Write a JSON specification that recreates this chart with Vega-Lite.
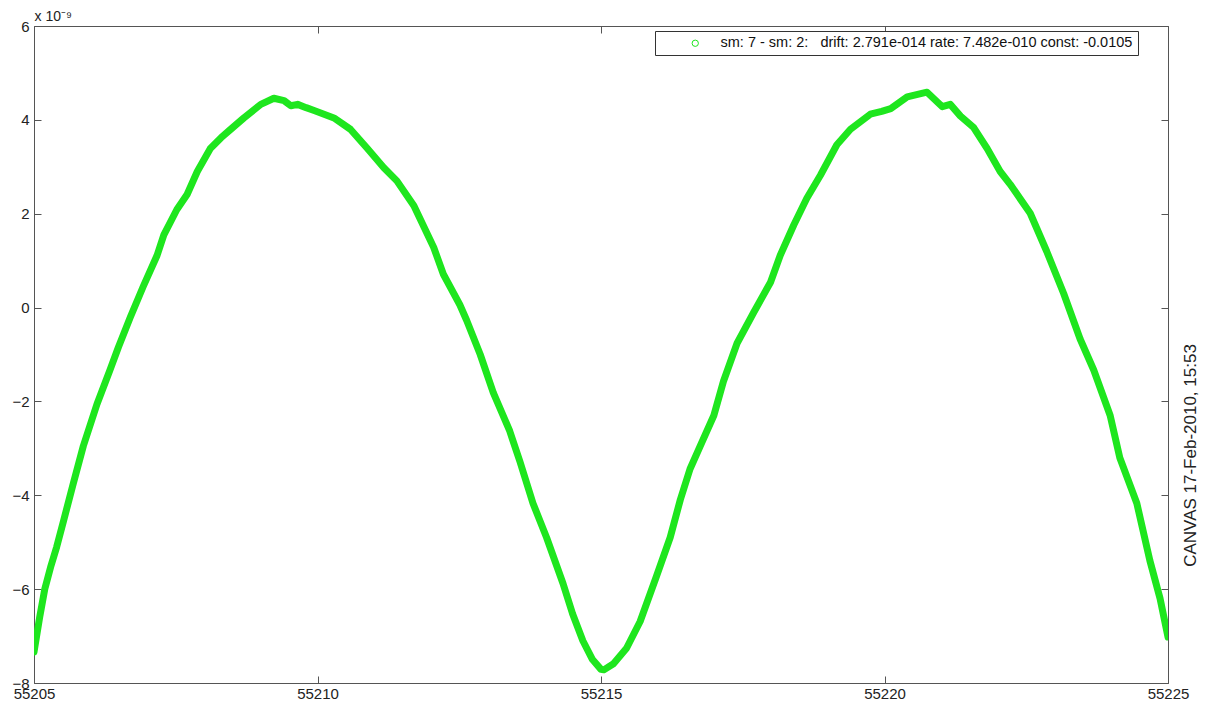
{
  "$schema": "https://vega.github.io/schema/vega-lite/v6.json",
  "width": 1134,
  "height": 657,
  "autosize": "none",
  "padding": {"left": 34, "top": 26, "right": 46, "bottom": 22},
  "background": "white",
  "config": {"view": {"stroke": "#555555", "strokeWidth": 1}, "font": "Liberation Sans"},
  "data": {"values": [
    {"mjd": 55205.00, "v": -7.34},
    {"mjd": 55205.10, "v": -6.6},
    {"mjd": 55205.19, "v": -6.0},
    {"mjd": 55205.30, "v": -5.5},
    {"mjd": 55205.40, "v": -5.1},
    {"mjd": 55205.52, "v": -4.55},
    {"mjd": 55205.69, "v": -3.76},
    {"mjd": 55205.87, "v": -2.95},
    {"mjd": 55206.11, "v": -2.06},
    {"mjd": 55206.34, "v": -1.33},
    {"mjd": 55206.49, "v": -0.84},
    {"mjd": 55206.70, "v": -0.20},
    {"mjd": 55206.93, "v": 0.46},
    {"mjd": 55207.17, "v": 1.11},
    {"mjd": 55207.29, "v": 1.55},
    {"mjd": 55207.52, "v": 2.09},
    {"mjd": 55207.70, "v": 2.41},
    {"mjd": 55207.88, "v": 2.90},
    {"mjd": 55208.11, "v": 3.39},
    {"mjd": 55208.30, "v": 3.62},
    {"mjd": 55208.47, "v": 3.80},
    {"mjd": 55208.70, "v": 4.04},
    {"mjd": 55209.00, "v": 4.33},
    {"mjd": 55209.23, "v": 4.46},
    {"mjd": 55209.41, "v": 4.41},
    {"mjd": 55209.53, "v": 4.30},
    {"mjd": 55209.65, "v": 4.33},
    {"mjd": 55209.80, "v": 4.26},
    {"mjd": 55209.94, "v": 4.20},
    {"mjd": 55210.29, "v": 4.04},
    {"mjd": 55210.58, "v": 3.80},
    {"mjd": 55210.88, "v": 3.39},
    {"mjd": 55211.17, "v": 2.98},
    {"mjd": 55211.40, "v": 2.70},
    {"mjd": 55211.70, "v": 2.17},
    {"mjd": 55212.05, "v": 1.28},
    {"mjd": 55212.22, "v": 0.71},
    {"mjd": 55212.51, "v": 0.06},
    {"mjd": 55212.63, "v": -0.27},
    {"mjd": 55212.87, "v": -1.0},
    {"mjd": 55213.10, "v": -1.81},
    {"mjd": 55213.39, "v": -2.63},
    {"mjd": 55213.57, "v": -3.28},
    {"mjd": 55213.80, "v": -4.17},
    {"mjd": 55214.04, "v": -4.90},
    {"mjd": 55214.33, "v": -5.88},
    {"mjd": 55214.50, "v": -6.53},
    {"mjd": 55214.68, "v": -7.10},
    {"mjd": 55214.85, "v": -7.50},
    {"mjd": 55215.00, "v": -7.71},
    {"mjd": 55215.05, "v": -7.72},
    {"mjd": 55215.22, "v": -7.59},
    {"mjd": 55215.45, "v": -7.26},
    {"mjd": 55215.69, "v": -6.69},
    {"mjd": 55215.98, "v": -5.72},
    {"mjd": 55216.22, "v": -4.90},
    {"mjd": 55216.40, "v": -4.09},
    {"mjd": 55216.57, "v": -3.44},
    {"mjd": 55216.75, "v": -2.95},
    {"mjd": 55216.99, "v": -2.30},
    {"mjd": 55217.16, "v": -1.57},
    {"mjd": 55217.40, "v": -0.76},
    {"mjd": 55217.69, "v": -0.11},
    {"mjd": 55217.99, "v": 0.54},
    {"mjd": 55218.16, "v": 1.11},
    {"mjd": 55218.40, "v": 1.76},
    {"mjd": 55218.63, "v": 2.33},
    {"mjd": 55218.87, "v": 2.82},
    {"mjd": 55219.16, "v": 3.47},
    {"mjd": 55219.40, "v": 3.80},
    {"mjd": 55219.75, "v": 4.12},
    {"mjd": 55219.95, "v": 4.18},
    {"mjd": 55220.11, "v": 4.24},
    {"mjd": 55220.40, "v": 4.49},
    {"mjd": 55220.75, "v": 4.59},
    {"mjd": 55221.02, "v": 4.28},
    {"mjd": 55221.16, "v": 4.33},
    {"mjd": 55221.34, "v": 4.08},
    {"mjd": 55221.57, "v": 3.84},
    {"mjd": 55221.81, "v": 3.39},
    {"mjd": 55222.04, "v": 2.90},
    {"mjd": 55222.22, "v": 2.62},
    {"mjd": 55222.57, "v": 2.01},
    {"mjd": 55222.86, "v": 1.20},
    {"mjd": 55223.16, "v": 0.30},
    {"mjd": 55223.45, "v": -0.67},
    {"mjd": 55223.69, "v": -1.33},
    {"mjd": 55223.98, "v": -2.30},
    {"mjd": 55224.15, "v": -3.20},
    {"mjd": 55224.45, "v": -4.17},
    {"mjd": 55224.68, "v": -5.39},
    {"mjd": 55224.86, "v": -6.20},
    {"mjd": 55225.00, "v": -7.02}
  ]},
  "layer": [
    {
      "mark": {"type": "line", "strokeWidth": 7, "strokeCap": "round", "strokeJoin": "round", "clip": true},
      "encoding": {
        "x": {"field": "mjd", "type": "quantitative",
          "scale": {"domain": [55205, 55225], "nice": false, "zero": false},
          "axis": {"orient": "bottom", "values": [55205, 55210, 55215, 55220, 55225], "format": "d", "title": null,
            "grid": false, "domain": false, "offset": -7, "tickSize": 7, "tickColor": "#555555", "labelPadding": 3,
            "labelFontSize": 15, "labelColor": "#222222", "labelFlush": false, "labelOverlap": false}},
        "y": {"field": "v", "type": "quantitative",
          "scale": {"domain": [-8, 6], "nice": false, "zero": false},
          "axis": {"orient": "left", "values": [-8, -6, -4, -2, 0, 2, 4, 6], "title": null,
            "grid": false, "domain": false, "offset": -7, "tickSize": 7, "tickColor": "#555555", "labelPadding": 5,
            "labelFontSize": 15, "labelColor": "#222222", "labelFlush": false, "labelOverlap": false}},
        "color": {"datum": "sm: 7 - sm: 2:\u00a0\u00a0\u00a0drift: 2.791e-014 rate: 7.482e-010 const: -0.0105", "type": "nominal",
          "scale": {"range": ["#1ee61e"]},
          "legend": {"orient": "none", "legendX": 621, "legendY": 5, "title": null, "padding": 5,
            "strokeColor": "#333333", "fillColor": "white", "cornerRadius": 0,
            "symbolType": "circle", "symbolSize": 40, "symbolStrokeWidth": 1, "symbolFillColor": "transparent",
            "symbolStrokeColor": "#1ee61e", "symbolOffset": 28, "labelOffset": 18,
            "labelFontSize": 14.5, "labelLimit": 600, "labelColor": "#111111"}}
      }
    },
    {
      "mark": {"type": "line", "opacity": 0},
      "encoding": {
        "x": {"field": "mjd", "type": "quantitative",
          "scale": {"domain": [55205, 55225], "nice": false, "zero": false},
          "axis": {"orient": "top", "values": [55205, 55210, 55215, 55220, 55225], "labels": false,
            "title": "x 10⁻⁹", "titleX": 0, "titleY": -13, "titleAlign": "left", "titleBaseline": "alphabetic",
            "titleFontSize": 14, "titleFontWeight": "normal", "titleColor": "#222222",
            "grid": false, "domain": false, "offset": -7, "tickSize": 7, "tickColor": "#555555"}},
        "y": {"field": "v", "type": "quantitative",
          "scale": {"domain": [-8, 6], "nice": false, "zero": false},
          "axis": {"orient": "right", "values": [-8, -6, -4, -2, 0, 2, 4, 6], "labels": false,
            "title": "CANVAS 17-Feb-2010, 15:53", "titleAngle": 270, "titleX": 29, "titleY": 429,
            "titleAlign": "center", "titleBaseline": "middle", "titleFontSize": 17, "titleFontWeight": "normal",
            "titleFont": "Liberation Sans Narrow, Liberation Sans", "titleColor": "#222222",
            "grid": false, "domain": false, "offset": -7, "tickSize": 7, "tickColor": "#555555"}}
      }
    }
  ],
  "resolve": {"axis": {"x": "independent", "y": "independent"}}
}
